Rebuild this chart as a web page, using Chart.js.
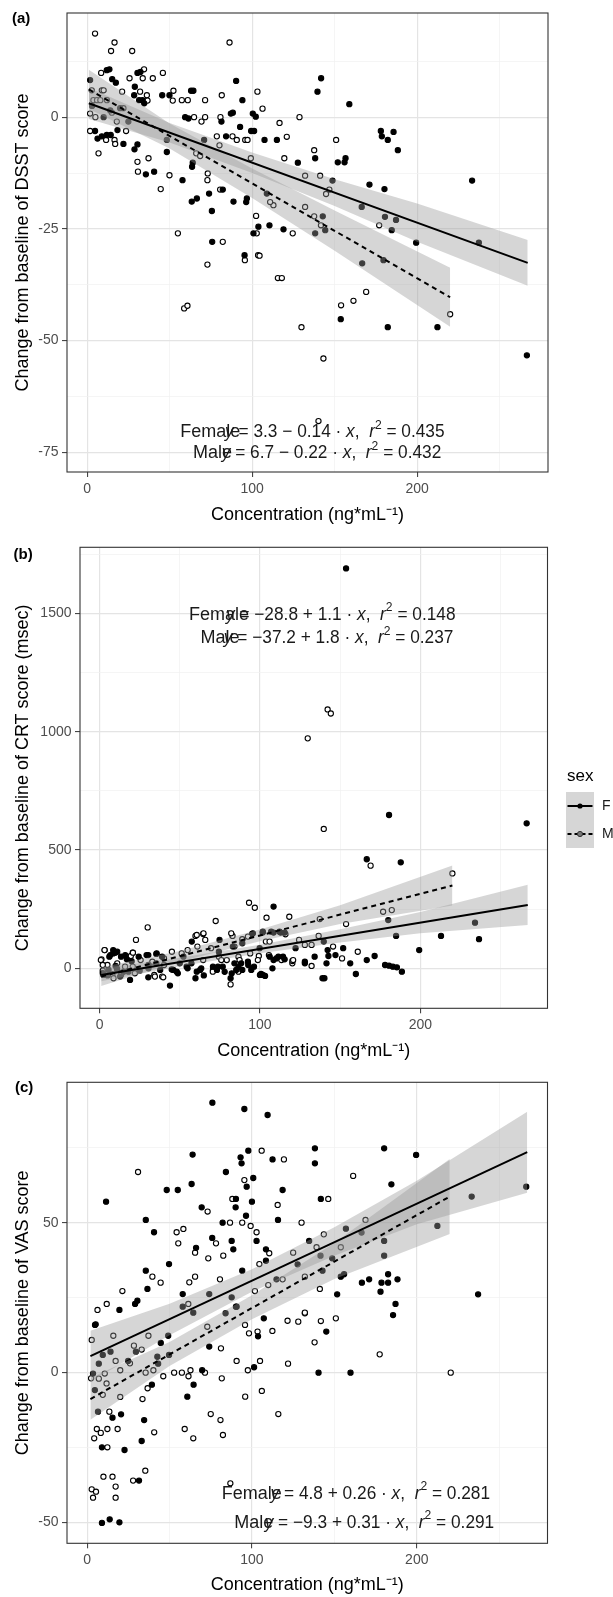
<!DOCTYPE html>
<html>
<head>
<meta charset="utf-8">
<script src="https://cdn.jsdelivr.net/npm/chart.js@4.4.1/dist/chart.umd.min.js"></script>
<style>
  html, body { margin: 0; padding: 0; background: #fff; width: 613px; height: 1597px; overflow: hidden; }
  canvas { position: absolute; left: 0; display: block; }
</style>
</head>
<body>
<canvas id="chartA" width="613" height="535" style="top:0px"></canvas>
<canvas id="chartB" width="613" height="528" style="top:535px"></canvas>
<canvas id="chartC" width="613" height="537" style="top:1063px"></canvas>
<script>
// shared x axis (concentration)
const xMajor = [0, 100, 200];
const xMinor = [50, 150, 250];
const xTitle = 'Concentration (ng*mL⁻¹)';

// ---- (a) DSST ----
const dsstMajor = [-75, -50, -25, 0];
const dsstMinor = [-62.5, -37.5, -12.5, 12.5];
const dsstFemale = [[1.8,8.3],[11.9,10.5],[13.5,10.7],[15.2,8.5],[30.5,9.9],[32.3,10.1],[17.4,7.7],[28.9,6.8],[28.5,4.9],[31.5,3.8],[33.5,3.8],[34.6,3.1],[45.5,4.9],[49.9,4.9],[63,5.9],[64.4,5.9],[88.3,1.0],[90.3,8.1],[94.1,3.8],[100.4,0.8],[102.2,0.1],[4.8,-3.1],[6.3,-4.8],[8.9,-4.3],[11.9,-4],[14.3,-4],[18.4,-2.9],[22,-6],[28.7,-7.2],[30.5,-6.1],[35.6,-12.8],[40.6,-12.2],[57.8,-14.1],[48.3,-7.8],[59.4,0],[61.4,-0.3],[81.4,-1],[87.1,0.8],[84.2,-4.3],[92.7,-2.2],[99.4,-3.1],[101.2,-3.1],[107.5,-5.1],[115,-5.1],[127.7,-10.2],[70.9,-5.1],[64,-10.2],[63.6,-11.1],[82.2,-16.2],[63.4,-18.9],[66.5,-18.2],[73.9,-17.1],[75.6,-21],[88.7,-18.9],[96.8,-18.2],[96.4,-19],[103.8,-24.5],[110.5,-24.2],[119,-25.1],[100.8,-26],[75.8,-27.9],[95.4,-30.9],[141.8,8.7],[139.6,5.7],[158.9,2.9],[178,-3.1],[178.6,-4.3],[182.2,-5.1],[185.7,-3.3],[188.3,-7.4],[138.2,-9.2],[151.9,-10.1],[156.6,-9.2],[156,-10.1],[148.7,-14.2],[171.1,-15.1],[180.2,-16.1],[233.3,-14.2],[184.6,-25.3],[199.4,-28.1],[153.7,-45.2],[182.2,-47],[212.3,-47],[266.5,-53.3],[48.3,-5.1],[108.9,-17.1],[166.4,-20.1],[180.5,-22.3],[187.2,-23],[237.4,-28.1],[142.8,-22.2],[144.3,-25.3],[138.2,-26],[166.7,-32.7],[179.6,-32],[3,2.5],[10,0],[14,1.5],[20,2],[25,-1]];
const dsstMale = [[4.8,18.7],[16.6,16.7],[14.5,14.8],[27.3,14.8],[86.3,16.7],[8.5,9.9],[25.7,8.7],[34.5,10.7],[33.7,8.7],[39.8,8.7],[45.9,9.9],[2.8,6.0],[8.9,6.0],[21.2,5.7],[32.1,5.7],[36.2,4.9],[36.6,3.7],[52.3,5.9],[51.9,3.7],[57.4,3.8],[61,3.8],[71.5,3.8],[81.6,4.9],[103.2,5.7],[106.3,1.9],[128.7,0],[1.8,0.8],[3.8,3.8],[1.8,-3.1],[11.5,-5.1],[16.6,-5.1],[23.6,-3.1],[17,-6],[6.9,-8.1],[37.2,-9.2],[30.5,-10],[30.8,-12.2],[44.6,-16.1],[49.9,-13],[64.8,0],[69.3,-1],[71.5,0],[80.8,0],[78.6,-4.3],[88.1,-4.3],[90.7,-5.1],[95.8,-5.1],[97.2,-5.1],[121,-4.4],[116.6,-1.3],[119.5,-9.2],[99.2,-9.2],[80.2,-6.3],[66.1,-8.1],[68.5,-8.7],[73.1,-12.6],[72.9,-14.1],[80.6,-16.2],[102.4,-22.1],[124.6,-26],[102.8,-26],[55,-26],[82.2,-27.9],[103.6,-30.9],[112.9,-19.7],[110.9,-19],[72.9,-33],[95.6,-32],[104.5,-31],[115.6,-36],[118,-36],[58.8,-42.8],[60.8,-42.2],[129.9,-47],[150.9,-5.1],[137.6,-7.4],[141.2,-13.1],[132.1,-13.1],[146.8,-16.2],[144.8,-17.2],[177,-24.2],[132.1,-20.1],[137.6,-22.2],[141.7,-24.2],[169.1,-39.1],[161.4,-41.1],[153.9,-42.1],[220,-44.1],[143.2,-54],[140.2,-68],[5,0],[6,3.8],[8,3.8],[12,3.8],[10,6],[15,1],[18,-1],[22,2]];
const dsstFitF = [[1, 3.1], [267, -32.6]];
const dsstFitM = [[1, 6.2], [220, -40.3]];
const dsstBandFX = [1, 50, 100, 150, 200, 267];
const dsstBandFLo = [-0.4, -5.7, -12.5, -19.9, -27.9, -37.7];
const dsstBandFHi = [6.6, -1.3, -7.9, -13.9, -19.3, -27.5];
const dsstBandMX = [1, 50, 100, 150, 220];
const dsstBandMLo = [1.8, -7, -18.1, -29.9, -46.9];
const dsstBandMHi = [10.6, -1.4, -11.5, -20.9, -33.7];

// ---- (b) CRT ----
const crtMajor = [0, 500, 1000, 1500];
const crtMinor = [250, 750, 1250, 1750];
const crtFemale = [[153.7,1690],[180.5,648],[266.3,613],[166.6,461],[187.8,448],[108.5,261],[212.9,137],[236.6,123],[199.3,77],[8.5,63],[108.5,151],[142.2,77],[151.9,85],[147.1,56],[171.5,52],[166.6,35],[156.3,21],[142.7,52],[141.5,21],[134.1,49],[128,21],[128,28],[111.5,49],[108.5,35],[115.4,38],[107.8,0],[106.1,49],[100.7,-24],[103.2,-32],[100,-28],[159.8,-24],[140.2,-42],[139,-42],[43.9,-73],[81.7,-42],[59.8,-42],[82.4,-21],[178,14],[180.5,11],[182.9,7],[185.4,4],[188.5,-14],[8.5,77],[11,70],[6.1,49],[13.4,49],[17,38],[24.4,49],[29.3,56],[35.4,61],[39,49],[30.5,14],[35.4,21],[37.8,-7],[48.8,-21],[54.9,0],[57.3,21],[63.4,0],[70.7,7],[73.2,-7],[76.8,7],[84.1,21],[86.6,7],[89,-7],[92.7,14],[96.3,7],[180,204],[184.9,137],[234.1,193],[101.7,151],[112.9,151],[139.8,113],[11,-7],[30.5,0],[50,21],[74.4,70],[89,106],[122.2,85],[2,-20],[5,-30],[10,10],[15,-15],[20,30],[25,-10],[45,-5],[65,-30],[78,-15],[9.8,66],[6.7,56],[16,56],[2.4,-28],[19,-49],[30.4,56],[35.6,63],[30.4,-38],[46,-7],[48.1,-14],[57.5,113],[60.6,-14],[62.7,-7],[73.8,7],[74.8,120],[85.2,-7],[88.3,21],[92.5,28],[94.6,-7],[101.8,-28],[107,155],[112.2,155],[99.8,85],[110.2,42],[114.4,49],[5.6,-7],[10.8,0],[18,-14],[12.8,-35],[52.3,49],[54.3,7],[83.1,92],[101.8,155],[115.4,151],[95.6,148]];
const crtMale = [[129.8,972],[142.2,1094],[144.2,1077],[139.8,589],[169,434],[220,401],[93.2,277],[96.8,256],[104.1,214],[118.3,218],[72.4,200],[176.8,239],[153.7,187],[137.3,208],[30,173],[22.7,120],[3.2,77],[20.7,66],[59.8,137],[64.6,145],[65.9,120],[82.9,137],[95.1,145],[115.9,144],[124.4,120],[128,99],[132.2,99],[136.6,137],[145.6,92],[161,70],[151.2,42],[132.2,10],[120.2,21],[120.2,31],[113.4,35],[99.3,52],[105.6,56],[81.7,-68],[1.2,38],[4.9,14],[11,21],[15.9,7],[19.5,52],[25.6,35],[32.9,28],[40.2,42],[45.1,70],[51.2,63],[54.9,77],[61,92],[69.5,85],[74.4,49],[79.3,35],[86.6,49],[93.9,63],[70.7,-7],[86.6,-14],[13.4,-28],[22,-21],[34.1,-28],[39,-35],[182.2,246],[89,123],[20.7,7],[40.2,14],[64.6,35],[84.1,92],[103.7,113],[2,-10],[8,-25],[3.1,77],[20.8,66],[0.8,35],[2,14],[8.7,-42],[34.5,-35],[39.7,-38],[60.6,141],[64.8,148],[70.6,-14],[75.9,35],[82.1,148],[87.3,35],[98.7,35],[106,113],[92.5,134],[120.7,35]];
const crtFitF = [[1, -28], [267, 268]];
const crtFitM = [[1, -35], [220, 350]];
const crtBandFX = [1, 50, 100, 150, 200, 267];
const crtBandFLo = [-55, 8.5, 64, 109.5, 148, 183];
const crtBandFHi = [0, 44.5, 100, 165.5, 238, 353];
const crtBandMX = [1, 50, 100, 150, 220];
const crtBandMLo = [-75, 29, 114, 187, 265];
const crtBandMHi = [5, 73, 164, 267, 435];

// ---- (c) VAS ----
const vasMajor = [-50, 0, 50];
const vasMinor = [-25, 25, 75];
const vasFemale = [[76,90],[95.4,87.9],[109.5,85.9],[97.8,74],[93.1,71.8],[93.7,69.8],[112.5,71.1],[64,72.7],[48.3,60.9],[55,60.9],[63.4,62.9],[84.2,66.9],[96.8,62],[100.8,64.9],[118.6,60.9],[90.3,57.9],[90.1,55.1],[100,57],[96.4,52.3],[115.8,50.9],[11.5,57],[69.5,55.1],[35.6,50.9],[40.6,46.8],[82.2,50],[102.8,43.9],[75.9,44.9],[87.7,43.9],[88.7,41.1],[66.1,41.6],[108.5,41.1],[108.5,37.3],[49.7,36.2],[35.6,34],[94.1,34],[36.6,27.9],[58,26.2],[19.6,20.9],[29.1,22.9],[30.5,24],[4.8,15.9],[107.2,18.1],[84,19.8],[90.3,22],[138.2,74.8],[180.2,74.8],[199.6,72.6],[138.2,69.8],[184.6,62.8],[141.8,57.9],[266.4,62],[166.7,30],[171.1,31.1],[178.6,30],[182.6,32.8],[182.6,30],[188.3,31.1],[178,27],[151.7,26.1],[237.2,26.1],[187.1,22.9],[185.6,19.2],[5.2,16.1],[49.2,12.3],[44.7,9.9],[24.9,3.9],[43.1,3],[69.8,0.8],[74.1,8.7],[101.3,1.8],[103.7,12.1],[145.1,13.7],[140.4,0],[159.8,0],[64.6,-4],[60.8,-8],[39.3,-4],[6.6,-13],[15.4,-15],[20.6,-13.9],[34.6,-15.8],[33.1,-22.8],[9,-24.9],[22.7,-25.8],[31.5,-36],[9,-50.1],[13.7,-48.9],[19.6,-49.9],[58,22],[64.4,20],[74.1,26.2],[87.7,25.1],[90.7,22],[114.9,31.1],[127.7,36.1],[233.3,58.7],[212.5,48.9],[157,48],[166.5,46.7],[134.7,43.9],[141.6,39],[148.7,38.1],[180.2,43.9],[180.2,39],[142.8,34],[153.9,32],[155.9,32.8],[7.1,3],[9.5,5.9],[14.2,7],[29.6,7],[42.6,5.3],[49.7,5.9],[3.6,-0.3],[4.7,-5.8]];
const vasMale = [[105.9,74],[119.4,71.1],[30.9,66.9],[95.4,64.2],[88.1,57.9],[115.6,55.9],[130.1,50],[73.1,53.7],[86.7,50],[94.1,50],[99.2,48.9],[102.8,46.8],[54.3,46.8],[58.4,47.9],[55.3,43.1],[78.2,43.1],[65.5,40],[73.5,38.1],[82.6,39],[110.5,39.8],[125,40],[104.5,36.2],[39.6,32],[44.6,30],[62,30.1],[65.5,32],[80.6,31.1],[21.4,27.2],[6.3,20.9],[11.9,22.9],[61.4,22.9],[101.8,27.2],[109.9,29.2],[118.6,31.1],[121.6,17.3],[128.1,17],[132.1,19.8],[95.8,15.9],[72.9,15.3],[161.4,65.6],[146.3,57.9],[168.9,50.9],[143.6,46.1],[139.2,41.8],[153.9,41.8],[132.1,32],[141.2,27.9],[132.1,20],[141.8,17.2],[150.9,18.1],[2.8,10.9],[15.9,12.3],[37.2,12.3],[28.4,9],[17.3,3.9],[33.1,7.7],[46.2,-1.2],[52.8,0],[57.5,0],[62.7,0.8],[61.5,-1.2],[71.5,0],[81.2,8.1],[90.7,3.9],[97.5,0.8],[104.9,3.9],[98.2,13.1],[103.4,13.7],[112.4,13.9],[121.9,3],[138,10.1],[177.5,6.1],[220.6,0],[81.7,-1.9],[106,-6.1],[95.9,-8],[116,-13.8],[75,-13.8],[80.9,-15.8],[82.4,-20.8],[59.2,-18.8],[64.4,-21.9],[36.7,-5.2],[33.6,-8.8],[2.4,-1.9],[13.5,-13],[5.9,-18.8],[12.3,-18.8],[18.5,-18.8],[8.3,-20.1],[4.3,-21.9],[40.7,-19.9],[12.3,-24.9],[35.3,-32.7],[9.9,-34.7],[15.4,-34.7],[27.9,-36],[17.3,-38],[86.9,-36.9],[2.8,-38.9],[5.4,-39.7],[3.6,-41.7],[17.3,-41.7],[10.7,-0.3],[11.8,-3.6],[26,3.1],[35.5,0],[40.2,0.8],[20.1,0.8],[9.5,-7.4],[20.1,-8.1],[7.1,-2]];
const vasFitF = [[2, 5.5], [267, 73.5]];
const vasFitM = [[2, -8.8], [220, 58.7]];
const vasBandFX = [2, 50, 100, 150, 200, 267];
const vasBandFLo = [-3, 12.5, 27, 39, 49.5, 60];
const vasBandFHi = [14, 23, 34.5, 48.5, 64, 87];
const vasBandMX = [2, 50, 100, 150, 220];
const vasBandMLo = [-15.7, 2.2, 17.8, 31.2, 46.2];
const vasBandMHi = [-1.7, 10.2, 25.8, 43.2, 71.2];

// equation labels (text)
const eqNames = ['Female', 'Male'];
const dsstCoef = ['3.3 − 0.14', '6.7 − 0.22'];
const dsstR2 = ['0.435', '0.432'];
const crtCoef = ['−28.8 + 1.1', '−37.2 + 1.8'];
const crtR2 = ['0.148', '0.237'];
const vasCoef = ['4.8 + 0.26', '−9.3 + 0.31'];
const vasR2 = ['0.281', '0.291'];

const FONT = "'Liberation Sans', Arial, sans-serif";
const BAND = 'rgba(153,153,153,0.4)';

const pts = arr => arr.map(([x, y]) => ({ x, y }));
const zip = (xs, ys) => xs.map((x, i) => ({ x, y: ys[i] }));

function eqRuns(coef, r2) {
  return [['y', 'i'], [' = ' + coef + ' · ', ''], ['x', 'i'], [',  ', ''], ['r', 'i'], ['2', 's'], [' = ' + r2, '']];
}

// plotmath-like text: italic / superscript runs, a bit condensed like the original
function drawRuns(ctx, runs, x, y, size) {
  ctx.save();
  ctx.translate(x, y);
  ctx.scale(0.96, 1);
  let cx = 0;
  runs.forEach(([txt, st]) => {
    let fs = size, dy = 0, pre = '';
    if (st === 'i') pre = 'italic ';
    if (st === 's') { fs = size * 0.7; dy = -size * 0.4; }
    ctx.font = pre + fs + 'px ' + FONT;
    ctx.fillText(txt, cx, dy);
    cx += ctx.measureText(txt).width;
  });
  ctx.restore();
}

function drawLegend(ctx) {
  // legend for sex, lives on panel (b) canvas
  ctx.fillStyle = '#000';
  ctx.font = '17px ' + FONT;
  ctx.textAlign = 'left';
  ctx.textBaseline = 'middle';
  ctx.fillText('sex', 567, 241);
  ctx.fillStyle = '#d6d6d6';
  ctx.fillRect(566, 257, 28, 56);
  // F key
  ctx.strokeStyle = '#000'; ctx.lineWidth = 2; ctx.setLineDash([]);
  ctx.beginPath(); ctx.moveTo(567.5, 271); ctx.lineTo(592.5, 271); ctx.stroke();
  ctx.fillStyle = '#000';
  ctx.beginPath(); ctx.arc(580, 271, 2.6, 0, Math.PI * 2); ctx.fill();
  // M key
  ctx.setLineDash([4, 3]);
  ctx.beginPath(); ctx.moveTo(567.5, 299); ctx.lineTo(592.5, 299); ctx.stroke();
  ctx.setLineDash([]);
  ctx.fillStyle = '#777'; ctx.strokeStyle = '#333'; ctx.lineWidth = 1;
  ctx.beginPath(); ctx.arc(580, 299, 2.6, 0, Math.PI * 2); ctx.fill(); ctx.stroke();
  ctx.fillStyle = '#1a1a1a';
  ctx.font = '14px ' + FONT;
  ctx.fillText('F', 602, 271);
  ctx.fillText('M', 602, 299);
}

function makeDecor(d) {
  return {
    id: 'decor',
    afterDraw(chart) {
      const { ctx, chartArea: a, scales: { x, y } } = chart;
      ctx.save();
      ctx.strokeStyle = '#333';
      ctx.lineWidth = 1.1;
      ctx.strokeRect(a.left, a.top, a.right - a.left, a.bottom - a.top);

      ctx.fillStyle = '#000';
      ctx.font = 'bold 15px ' + FONT;
      ctx.textAlign = 'left';
      ctx.textBaseline = 'middle';
      ctx.fillText(d.tag, d.tagX, d.tagY);

      ctx.fillStyle = '#1a1a1a';
      d.eqs.forEach(e => {
        const py = y.getPixelForValue(e.y);
        ctx.font = '18px ' + FONT;
        ctx.fillText(e.name, x.getPixelForValue(e.nameX), py);
        drawRuns(ctx, eqRuns(e.coef, e.r2), x.getPixelForValue(e.x), py, 18);
      });
      if (d.legend) drawLegend(ctx);
      ctx.restore();
    }
  };
}

function makePanel(id, p) {
  const canvas = document.getElementById(id);
  const H = canvas.height;
  const W = canvas.width;
  const xAll = xMajor.concat(xMinor).sort((a, b) => a - b);
  const yAll = p.yMajor.concat(p.yMinor).sort((a, b) => a - b);
  const gridOpts = major => ({
    color: c => major.includes(c.tick.value) ? '#e4e4e4' : '#f1f1f1',
    lineWidth: c => major.includes(c.tick.value) ? 1.2 : 0.7,
    tickColor: c => major.includes(c.tick.value) ? '#333' : 'rgba(0,0,0,0)',
    tickWidth: 1,
    tickLength: 5,
    drawTicks: true
  });
  const tickFont = { family: FONT, size: 14 };

  return new Chart(canvas, {
    type: 'scatter',
    data: {
      datasets: [
        { type: 'scatter', data: pts(p.female), pointRadius: 2.6, pointBorderWidth: 1.1, backgroundColor: '#000', borderColor: '#000', order: 3 },
        { type: 'scatter', data: pts(p.male), pointRadius: 2.6, pointBorderWidth: 1.1, backgroundColor: '#fff', borderColor: '#000', order: 3 },
        { type: 'line', data: zip(p.bandFX, p.bandFLo), borderWidth: 0, borderColor: 'rgba(0,0,0,0)', pointRadius: 0, fill: false, order: 2 },
        { type: 'line', data: zip(p.bandFX, p.bandFHi), borderWidth: 0, borderColor: 'rgba(0,0,0,0)', pointRadius: 0, fill: '-1', backgroundColor: BAND, order: 2 },
        { type: 'line', data: zip(p.bandMX, p.bandMLo), borderWidth: 0, borderColor: 'rgba(0,0,0,0)', pointRadius: 0, fill: false, order: 2 },
        { type: 'line', data: zip(p.bandMX, p.bandMHi), borderWidth: 0, borderColor: 'rgba(0,0,0,0)', pointRadius: 0, fill: '-1', backgroundColor: BAND, order: 2 },
        { type: 'line', data: pts(p.fitF), borderColor: '#000', borderWidth: 2, pointRadius: 0, fill: false, order: 1 },
        { type: 'line', data: pts(p.fitM), borderColor: '#000', borderWidth: 2, borderDash: [5, 4], pointRadius: 0, fill: false, order: 1 }
      ]
    },
    options: {
      responsive: false,
      animation: false,
      events: [],
      layout: { padding: { left: 0, top: p.area.top, right: W - p.area.right, bottom: 0 } },
      plugins: { legend: { display: false }, tooltip: { enabled: false } },
      scales: {
        x: {
          type: 'linear',
          min: -12.2, max: 279.3,
          afterBuildTicks: s => { s.ticks = xAll.map(v => ({ value: v })); },
          afterFit: s => { s.height = H - p.area.bottom; },
          ticks: { autoSkip: false, maxRotation: 0, padding: 3.5, color: '#4d4d4d', font: tickFont,
            callback: v => xMajor.includes(v) ? String(v) : '' },
          grid: gridOpts(xMajor),
          border: { display: false },
          title: { display: true, text: xTitle, color: '#000', font: { family: FONT, size: 18 }, padding: { top: 0, bottom: p.xTitlePad } }
        },
        y: {
          type: 'linear',
          min: p.yMin, max: p.yMax,
          afterBuildTicks: s => { s.ticks = yAll.map(v => ({ value: v })); },
          afterFit: s => { s.width = p.area.left; },
          ticks: { autoSkip: false, padding: 3.5, color: '#4d4d4d', font: tickFont,
            callback: v => p.yMajor.includes(v) ? String(v) : '' },
          grid: gridOpts(p.yMajor),
          border: { display: false },
          title: { display: true, text: p.yTitle, color: '#000', font: { family: FONT, size: 18 }, padding: { top: 12, bottom: 0 } }
        }
      }
    },
    plugins: [makeDecor(p.decor)]
  });
}

makePanel('chartA', {
  area: { left: 67, right: 548, top: 13, bottom: 472 },
  yMin: -79.4, yMax: 23.3, yMajor: dsstMajor, yMinor: dsstMinor,
  yTitle: 'Change from baseline of DSST score', xTitlePad: 8.7,
  female: dsstFemale, male: dsstMale, fitF: dsstFitF, fitM: dsstFitM,
  bandFX: dsstBandFX, bandFLo: dsstBandFLo, bandFHi: dsstBandFHi,
  bandMX: dsstBandMX, bandMLo: dsstBandMLo, bandMHi: dsstBandMHi,
  decor: { tag: '(a)', tagX: 12, tagY: 19, eqs: [
    { name: eqNames[0], nameX: 56.4, x: 83.6, y: -70.5, coef: dsstCoef[0], r2: dsstR2[0] },
    { name: eqNames[1], nameX: 64.2, x: 81.6, y: -75.2, coef: dsstCoef[1], r2: dsstR2[1] }
  ] }
});

makePanel('chartB', {
  area: { left: 80, right: 547.5, top: 12.3, bottom: 473.3 },
  yMin: -169, yMax: 1779.4, yMajor: crtMajor, yMinor: crtMinor,
  yTitle: 'Change from baseline of CRT score (msec)', xTitlePad: 1.2,
  female: crtFemale, male: crtMale, fitF: crtFitF, fitM: crtFitM,
  bandFX: crtBandFX, bandFLo: crtBandFLo, bandFHi: crtBandFHi,
  bandMX: crtBandMX, bandMLo: crtBandMLo, bandMHi: crtBandMHi,
  decor: { tag: '(b)', tagX: 13.5, tagY: 20, legend: true, eqs: [
    { name: eqNames[0], nameX: 55.7, x: 78.8, y: 1492.6, coef: crtCoef[0], r2: crtR2[0] },
    { name: eqNames[1], nameX: 62.9, x: 77.5, y: 1394, coef: crtCoef[1], r2: crtR2[1] }
  ] }
});

makePanel('chartC', {
  area: { left: 67, right: 547.5, top: 19.3, bottom: 480.3 },
  yMin: -56.9, yMax: 96.8, yMajor: vasMajor, yMinor: vasMinor,
  yTitle: 'Change from baseline of VAS score', xTitlePad: 3.7,
  female: vasFemale, male: vasMale, fitF: vasFitF, fitM: vasFitM,
  bandFX: vasBandFX, bandFLo: vasBandFLo, bandFHi: vasBandFHi,
  bandMX: vasBandMX, bandMLo: vasBandMLo, bandMHi: vasBandMHi,
  decor: { tag: '(c)', tagX: 15, tagY: 25, eqs: [
    { name: eqNames[0], nameX: 81.7, x: 111.3, y: -40.4, coef: vasCoef[0], r2: vasR2[0] },
    { name: eqNames[1], nameX: 89.3, x: 107.7, y: -50.2, coef: vasCoef[1], r2: vasR2[1] }
  ] }
});
</script>
</body>
</html>
